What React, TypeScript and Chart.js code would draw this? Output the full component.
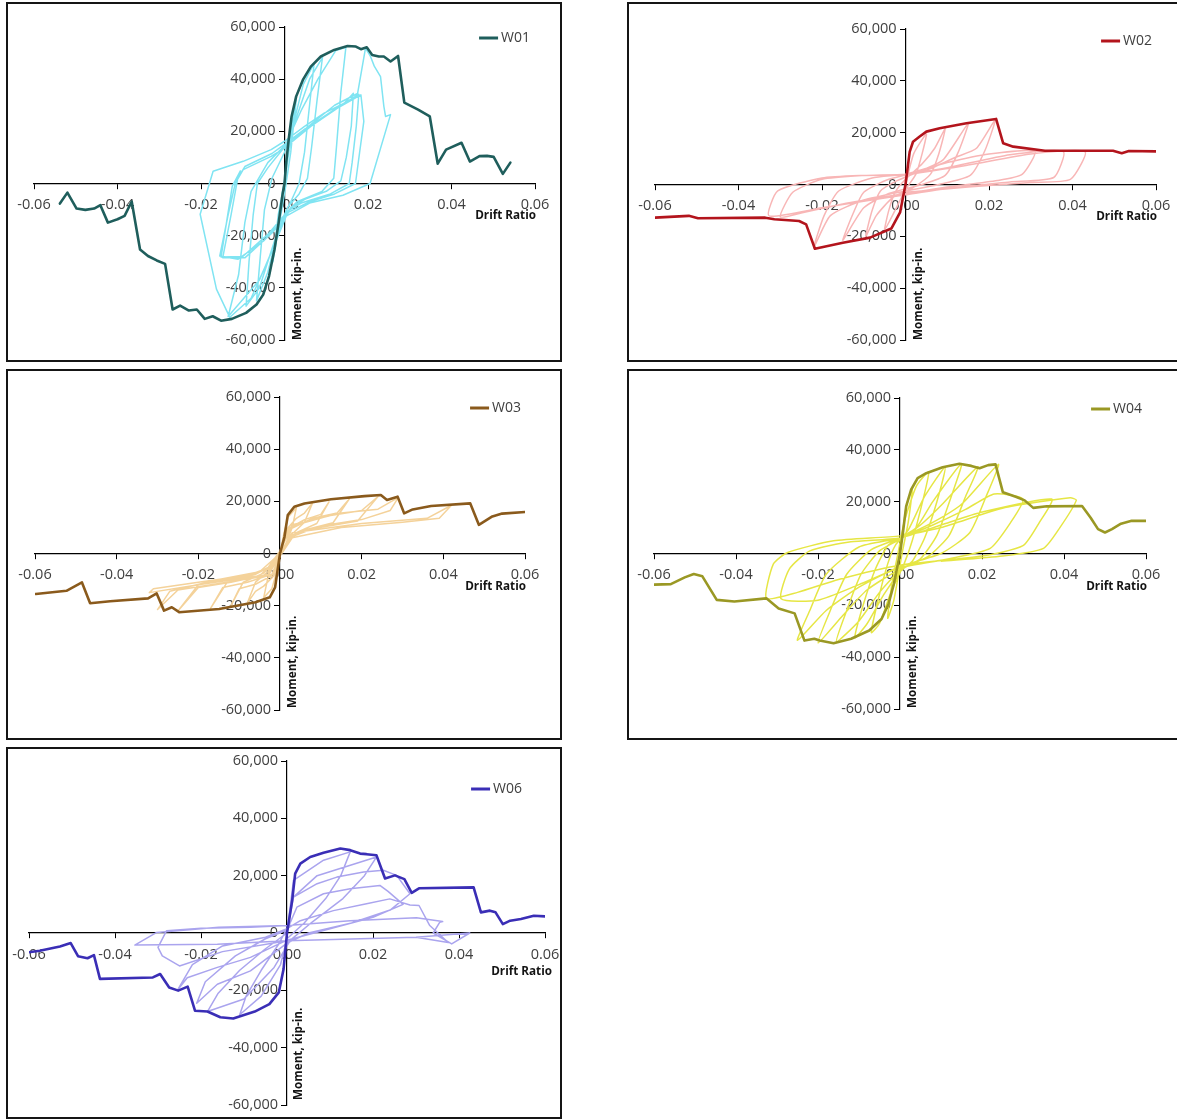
import React, { useEffect, useRef } from "react";
import { Chart, registerables } from "chart.js";

Chart.register(...registerables);

type Pt = [number, number];

// ---------- axis ticks ----------
const DRIFT_TICKS = [-0.06, -0.04, -0.02, 0, 0.02, 0.04, 0.06];
const MOMENT_TICKS = [-60000, -40000, -20000, 0, 20000, 40000, 60000];
const X_TITLE = "Drift Ratio";
const Y_TITLE = "Moment, kip-in.";

// ---------- W01 ----------
const W01_BACKBONE: Pt[] = [
  [-0.0538, -7700], [-0.052, -3500], [-0.0498, -9600], [-0.0477, -10100], [-0.0456, -9600],
  [-0.0441, -8300], [-0.0423, -15000], [-0.04, -13700], [-0.0383, -12400], [-0.0366, -6900],
  [-0.0346, -25300], [-0.0327, -27800], [-0.0306, -29500], [-0.0286, -30800], [-0.0268, -48300],
  [-0.025, -46800], [-0.0229, -48700], [-0.021, -48300], [-0.0191, -51900], [-0.0172, -50900],
  [-0.0152, -52600], [-0.0126, -51900], [-0.0092, -49600], [-0.0067, -46400], [-0.0051, -42600],
  [-0.0037, -35500], [-0.0024, -25300], [-0.0014, -15000], [-0.0004, -3500], [0, 0],
  [0.0004, 7900], [0.001, 16800], [0.0017, 25700], [0.0028, 33400], [0.0044, 39700],
  [0.0063, 44800], [0.0087, 48700], [0.0119, 51200], [0.0151, 52700], [0.0171, 52500],
  [0.0183, 51500], [0.0197, 52200], [0.021, 49300], [0.0226, 48700], [0.0238, 48700],
  [0.0254, 46800], [0.0272, 48900], [0.0287, 31000], [0.032, 28300], [0.0348, 25700],
  [0.0367, 7600], [0.0387, 13000], [0.0424, 15600], [0.0444, 8400], [0.0467, 10500],
  [0.0485, 10600], [0.0501, 10200], [0.0523, 3700], [0.0541, 8000],
];
const W01_LOOPS: Pt[] = [
  [0, 0], [0.0015, 20000], [0.0028, 32000], [0.0015, 12000], [0.0002, -2000], [-0.0015, -18000],
  [-0.0028, -30000], [-0.0015, -12000], [0, 1000],
  [0.002, 22000], [0.0045, 38000], [0.0071, 46100], [0.006, 30000], [0.0048, 12000], [0.0035, 0],
  [0.0015, -7000], [-0.001, -15000], [-0.004, -34000], [-0.0067, -45000], [-0.0058, -28000],
  [-0.0048, -10000], [-0.003, 2000], [0, 12000],
  [0.003, 26000], [0.006, 40000], [0.0091, 48400], [0.0078, 32000], [0.0065, 14000], [0.0055, 2000],
  [0.0035, -4000], [0.0008, -9000], [-0.002, -20000], [-0.006, -40000], [-0.0092, -47000],
  [-0.0085, -30000], [-0.0075, -12000], [-0.0065, 0], [-0.004, 6000], [0, 14000],
  [0.004, 28000], [0.008, 40000], [0.0123, 51000], [0.0147, 52200], [0.0135, 35000], [0.0125, 15000],
  [0.0118, 2000], [0.009, -3000], [0.003, -7000], [0.0005, -11000], [-0.003, -26000], [-0.008, -44000],
  [-0.0131, -51300],
  [-0.0163, -40500], [-0.0202, -11800], [-0.0171, 4700], [-0.0099, 8500], [-0.0032, 13000], [0, 16200],
  [0.0048, 21900], [0.0095, 27000], [0.0143, 30800], [0.0165, 34600],
  [0.016, 22000], [0.0148, 10000], [0.0135, 1000], [0.01, -3000], [0.005, -6000], [0.0016, -9000],
  [0, -13000], [-0.005, -22000], [-0.0111, -29000], [-0.0155, -27800],
  [-0.0135, -12000], [-0.0118, 0], [-0.0099, 5300], [-0.0032, 10400], [0, 13600], [0.0063, 21900],
  [0.0127, 28900], [0.0183, 34000], [0.019, 23800],
  [0.018, 12000], [0.017, 0], [0.012, -4000], [0.006, -7000], [0.001, -11000], [-0.003, -19000],
  [-0.0095, -28500], [-0.0148, -28500],
  [-0.0128, -12000], [-0.0112, 2000], [-0.0095, 6500], [-0.003, 11500], [0, 15000], [0.005, 21000],
  [0.012, 30000], [0.0175, 34500], [0.0194, 51900], [0.0206, 48700], [0.0215, 45000], [0.023, 41000],
  [0.0238, 29600], [0.0242, 25700], [0.0254, 26400], [0.0205, 0], [0.014, -4500], [0.006, -7500],
  [0.0004, -12500], [-0.002, -22000], [-0.006, -37000], [-0.0135, -51000], [-0.011, -35000],
  [-0.0095, -15000], [-0.008, -3000],
  [-0.004, 8000], [0, 14500], [0.006, 22000], [0.013, 29500], [0.0178, 34200], [0.0172, 22000],
  [0.0162, 8000], [0.0155, 0], [0.011, -4000], [0.004, -7500], [0.0008, -10500], [-0.004, -19500],
  [-0.01, -28000], [-0.0152, -28200], [-0.0138, -14000], [-0.0125, -1000], [-0.0105, 5000],
];

// ---------- W02 ----------
const W02_BACKBONE: Pt[] = [
  [-0.06, -12800], [-0.0519, -12100], [-0.0497, -13000], [-0.0336, -12800], [-0.0314, -13400],
  [-0.0255, -14100], [-0.0238, -15400], [-0.0217, -24800], [-0.015, -22500], [-0.0085, -20500],
  [-0.0034, -17000], [-0.0013, -10800], [0, 0], [0.001, 12600], [0.0018, 16500], [0.0034, 18500],
  [0.005, 20400], [0.0082, 21700], [0.0146, 23600], [0.0217, 25300], [0.0234, 15900], [0.0258, 14600],
  [0.0334, 13000], [0.0402, 13000], [0.0497, 13000], [0.0518, 12100], [0.0535, 12900], [0.06, 12800],
];
const W02_LOOPS: Pt[] = [
  [0, 0], [0.002, 12000], [0.005, 19500], [0.004, 12000], [0.0025, 4000], [0, -2000], [-0.0025, -10000],
  [-0.005, -17500], [-0.004, -10000], [-0.0025, -3000], [0, 2000],
  [0.004, 8000], [0.007, 14000], [0.0095, 21500], [0.008, 12000], [0.006, 4000], [0.002, -1000],
  [-0.003, -5000], [-0.007, -12000], [-0.0095, -20000], [-0.008, -10000], [-0.006, -2500], [-0.002, 1500],
  [0.004, 5500], [0.009, 9500], [0.015, 23500], [0.0125, 12000], [0.0095, 3500], [0.004, 0],
  [-0.004, -3500], [-0.01, -9000], [-0.015, -21500], [-0.0125, -11000], [-0.01, -3000], [-0.004, 2000],
  [0.005, 5500], [0.012, 10500], [0.017, 14000], [0.0215, 25000], [0.019, 13000], [0.0155, 3500],
  [0.008, 0], [0, -2500], [-0.01, -6000], [-0.018, -12000], [-0.022, -24500], [-0.0195, -12000],
  [-0.016, -2500], [-0.008, 2500], [0, 4000],
  [0.01, 8500], [0.02, 11800], [0.031, 12800], [0.028, 4000], [0.022, 1500], [0.01, -1000], [0, -3500],
  [-0.015, -7500], [-0.025, -11000], [-0.03, -12500], [-0.027, -3000], [-0.02, 2000], [-0.01, 3500], [0, 4000],
  [0.01, 6500], [0.025, 11500], [0.0378, 12700], [0.0355, 2700], [0.025, 1000], [0.01, -1500], [0, -4000],
  [-0.02, -9000], [-0.0327, -12100], [-0.0306, -2500], [-0.02, 2500], [-0.01, 3500], [0, 3800],
  [0.015, 7500], [0.03, 11800], [0.043, 12700], [0.0395, 2000], [0.03, 800], [0.015, -1000], [0, -3000],
];

// ---------- W03 ----------
const W03_BACKBONE: Pt[] = [
  [-0.0598, -15500], [-0.0523, -14300], [-0.0485, -11100], [-0.0465, -19100], [-0.0416, -18300],
  [-0.0323, -17200], [-0.0302, -15300], [-0.0284, -21900], [-0.0265, -20600], [-0.0247, -22500],
  [-0.0149, -21300], [-0.006, -18700], [-0.0025, -16800], [-0.0012, -13000], [0, 0], [0.0011, 6400],
  [0.0019, 14700], [0.0035, 17900], [0.006, 19200], [0.0125, 20800], [0.0207, 22000], [0.0247, 22400],
  [0.0262, 20500], [0.0288, 21800], [0.0304, 15400], [0.0325, 16900], [0.037, 18200], [0.0466, 19200],
  [0.0487, 11000], [0.052, 14200], [0.0544, 15300], [0.06, 15900],
];
const W03_LOOPS: Pt[] = [
  [0, 0], [0.001, 8000], [0.002, 14000], [0.004, 17500], [0.003, 10000], [0.0015, 4000], [0, -1000],
  [-0.001, -8000], [-0.002, -13500], [-0.004, -17000], [-0.003, -9500], [-0.0015, -4000], [0, 1000],
  [0.0015, 9000], [0.004, 13500], [0.006, 15500], [0.008, 19500], [0.006, 12000], [0.003, 7500],
  [0.0015, 4000], [0, -1000], [-0.0015, -8500], [-0.004, -12500], [-0.006, -14500], [-0.008, -19000],
  [-0.006, -11000], [-0.003, -7000], [-0.0015, -3500], [0, 1000],
  [0.002, 9500], [0.006, 13000], [0.01, 15000], [0.012, 19800], [0.009, 11500], [0.004, 8000],
  [0.002, 5000], [0, -1000], [-0.002, -8500], [-0.006, -11800], [-0.01, -13500], [-0.012, -20000],
  [-0.009, -11000], [-0.004, -7500], [-0.002, -4500], [0, 1000],
  [0.002, 9000], [0.008, 13500], [0.014, 15500], [0.017, 21000], [0.013, 11800], [0.006, 9000],
  [0.002, 5500], [0, -1000], [-0.002, -8000], [-0.008, -11000], [-0.014, -13000], [-0.017, -21000],
  [-0.013, -11200], [-0.006, -8000], [-0.002, -4500], [0, 1000],
  [0.003, 10500], [0.012, 14500], [0.02, 16500], [0.024, 21800], [0.019, 12500], [0.008, 9500],
  [0.003, 6500], [0, -1000], [-0.003, -8000], [-0.012, -11000], [-0.02, -13000], [-0.025, -22000],
  [-0.02, -12000], [-0.008, -8500], [-0.003, -5500], [0, 1000],
  [0.003, 11000], [0.015, 15500], [0.024, 17000], [0.029, 21500], [0.027, 16500], [0.02, 13000],
  [0.01, 10500], [0.003, 7000], [0, -1000], [-0.003, -8500], [-0.015, -11500], [-0.025, -14000],
  [-0.03, -21500], [-0.027, -14500], [-0.015, -10000], [-0.005, -7000], [0, 0],
  [0.003, 8000], [0.02, 11500], [0.036, 13500], [0.042, 18500], [0.039, 13500], [0.03, 12000],
  [0.015, 10000], [0.003, 6000], [0, -1000], [-0.005, -8500], [-0.02, -12000], [-0.032, -15000],
  [-0.031, -13500], [-0.02, -11000], [-0.006, -8000], [0, -3000],
];

// ---------- W04 ----------
const W04_BACKBONE: Pt[] = [
  [-0.06, -12000], [-0.0559, -11800], [-0.0525, -9200], [-0.0503, -7900], [-0.0482, -8800],
  [-0.0447, -17900], [-0.0404, -18500], [-0.0326, -17300], [-0.0296, -21200], [-0.0257, -23100],
  [-0.0233, -33600], [-0.0209, -32900], [-0.0196, -33600], [-0.0162, -34600], [-0.0119, -32900],
  [-0.0075, -29700], [-0.0045, -25300], [-0.0028, -19500], [-0.0015, -11800], [0, 0], [0.0007, 7900],
  [0.0015, 18200], [0.0027, 24600], [0.0043, 29100], [0.0064, 31000], [0.0104, 33300], [0.0145, 34600],
  [0.0174, 33800], [0.0194, 32900], [0.0215, 34100], [0.0233, 34400], [0.0251, 23600], [0.0284, 21800],
  [0.0304, 20500], [0.0325, 17600], [0.0358, 18200], [0.0444, 18300], [0.0465, 13800], [0.0483, 9400],
  [0.05, 8100], [0.0517, 9400], [0.0539, 11500], [0.0565, 12600], [0.06, 12600],
];
const W04_LOOPS: Pt[] = [
  [0, 0], [0.0015, 18000], [0.003, 25000], [0.002, 12000], [0.0005, 0], [-0.0015, -18000],
  [-0.003, -25000], [-0.002, -12000], [-0.0005, 0],
  [0.001, 12000], [0.004, 26000], [0.007, 31500], [0.0055, 20000], [0.003, 5000], [0.001, -4000],
  [-0.002, -14000], [-0.005, -27000], [-0.007, -30500], [-0.0055, -19000], [-0.003, -4000], [-0.001, 3500],
  [0.002, 9000], [0.006, 22000], [0.011, 33300], [0.009, 20000], [0.006, 6000], [0.003, -3000], [0, -7000],
  [-0.004, -16000], [-0.008, -27000], [-0.011, -32500], [-0.009, -20000], [-0.006, -6000], [-0.003, 3000], [0, 6000],
  [0.004, 10000], [0.008, 20000], [0.015, 34600], [0.0125, 22000], [0.009, 7000], [0.005, -2000], [0, -6500],
  [-0.005, -15000], [-0.01, -26000], [-0.0155, -34000], [-0.013, -22000], [-0.0095, -8000], [-0.005, 1000], [0, 5500],
  [0.005, 11000], [0.01, 18500], [0.019, 33500], [0.016, 22000], [0.012, 7000], [0.007, -1000], [0, -6000],
  [-0.008, -14000], [-0.014, -24000], [-0.02, -34500], [-0.017, -22000], [-0.013, -8000], [-0.007, 1500], [0, 6000],
  [0.008, 12000], [0.015, 19000], [0.024, 34400], [0.021, 22000], [0.017, 8000], [0.01, 0], [0, -5000],
  [-0.01, -13000], [-0.018, -22000], [-0.025, -33500], [-0.022, -22000], [-0.018, -8000], [-0.01, 2500], [0, 6000],
  [0.008, 11000], [0.016, 17000], [0.023, 23000], [0.03, 21000], [0.027, 12000], [0.022, 2000], [0.012, -2000],
  [0, -5500], [-0.01, -12000], [-0.02, -18000], [-0.029, -17500], [-0.027, -6000], [-0.022, 1000],
  [-0.012, 4500], [0, 6000],
  [0.01, 11000], [0.02, 16000], [0.037, 21000], [0.034, 12000], [0.03, 3000], [0.02, -1000], [0, -4500],
  [-0.015, -10000], [-0.025, -15000], [-0.0326, -17300], [-0.0309, -4100], [-0.0274, 400], [-0.0162, 4900], [0, 6800],
  [0.01, 10000], [0.025, 17500], [0.0415, 21500], [0.043, 20500], [0.039, 10000], [0.035, 2000],
  [0.025, -1000], [0.01, -3000],
];

// ---------- W06 ----------
const W06_BACKBONE: Pt[] = [
  [-0.06, -6700], [-0.0575, -6200], [-0.0528, -4700], [-0.0503, -3500], [-0.0486, -8100], [-0.0464, -8800],
  [-0.0449, -7700], [-0.0435, -16000], [-0.0312, -15500], [-0.0295, -14300], [-0.0274, -19000],
  [-0.0253, -20100], [-0.0231, -18700], [-0.0214, -27100], [-0.0185, -27400], [-0.0155, -29400],
  [-0.0125, -29800], [-0.0075, -27400], [-0.0041, -24800], [-0.0019, -20700], [-0.0008, -12600], [0, 0],
  [0.0012, 11300], [0.0019, 20700], [0.0031, 24200], [0.0054, 26500], [0.0085, 28000], [0.0124, 29500],
  [0.0147, 28900], [0.017, 27700], [0.0185, 27500], [0.0208, 27100], [0.0228, 19000], [0.0251, 20100],
  [0.0273, 18800], [0.029, 14000], [0.0307, 15600], [0.0434, 15900], [0.0451, 7200], [0.0472, 7800],
  [0.0485, 7200], [0.0502, 3100], [0.0519, 4300], [0.0544, 4900], [0.0574, 6000], [0.06, 5800],
];
const W06_LOOPS: Pt[] = [
  [0, 0], [0.0015, 18400], [0.0085, 25400], [0.0147, 28300], [0.0125, 20000], [0.009, 12000], [0.004, 3500],
  [0, -2000], [-0.0015, -11000], [-0.006, -22000], [-0.011, -28500], [-0.0095, -22000], [-0.006, -13000],
  [-0.002, -4000], [0, 1500],
  [0.0015, 12500], [0.007, 20000], [0.0208, 26500], [0.018, 20000], [0.013, 12000], [0.006, 4000],
  [0.0008, -2500], [-0.003, -12000], [-0.01, -23000], [-0.0185, -27400], [-0.016, -21000], [-0.011, -13000],
  [-0.005, -5500], [0, 0],
  [0.0015, 12500], [0.007, 17200], [0.0116, 19500], [0.0178, 21300], [0.0224, 21900], [0.0255, 20100],
  [0.0286, 13700], [0.024, 8000], [0.015, 3500], [0.005, 0], [0, -3500], [-0.0085, -13200], [-0.0162, -17900],
  [-0.021, -24500], [-0.019, -17000], [-0.012, -8000], [-0.005, -2000], [0, 1000],
  [0.0023, 9000], [0.0085, 13700], [0.0147, 15400], [0.0216, 16600], [0.0235, 14500], [0.027, 10000],
  [0.02, 5500], [0.01, 1500], [0, -2500], [-0.0085, -8500], [-0.0162, -12000], [-0.0232, -15600],
  [-0.0255, -20000], [-0.022, -11000], [-0.015, -4500], [-0.005, -1500], [0, 1500],
  [0.0031, 4300], [0.0108, 7800], [0.0185, 10200], [0.0239, 11900], [0.0286, 9800], [0.0307, 9600],
  [0.0332, 2600], [0.0375, -3300], [0.03, -1500], [0.015, -2100], [0, -2700], [-0.015, -6500],
  [-0.025, -11500], [-0.029, -8000], [-0.03, -5000], [-0.028, 800], [-0.02, 1700], [-0.0085, 2000], [0, 2600],
  [0.0147, 4300], [0.0301, 5300], [0.0362, 4000], [0.0355, 3700], [0.034, 0], [0.0383, -3800], [0.0425, 0],
  [0.03, -1500], [0.015, -2100], [0, -2700], [-0.0162, -3900], [-0.0354, -4200], [-0.0303, 200],
  [-0.0159, 2000], [0, 2600],
];

// ---------- panel layout / styling ----------
type PanelCfg = {
  name: string;
  backbone: Pt[];
  loops: Pt[];
  dark: string;
  light: string;
  tension: number;
  box: { x: number; y: number; w: number; h: number };
  pad: { left: number; right: number; top: number; bottom: number };
  legend: { dx: number; dy: number };
  xTitle: { dx: number; dy: number };
  yTitle: { dx: number; dy: number };
};

const PANELS: PanelCfg[] = [
  {
    name: "W01", backbone: W01_BACKBONE, loops: W01_LOOPS, dark: "#1f5e5c", light: "#80e4f2", tension: 0,
    box: { x: 6, y: 2, w: 556, h: 360 }, pad: { left: 28, right: 27, top: 25, bottom: 22 },
    legend: { dx: 5, dy: 11 }, xTitle: { dx: 1, dy: 32 }, yTitle: { dx: 13, dy: 0 },
  },
  {
    name: "W02", backbone: W02_BACKBONE, loops: W02_LOOPS, dark: "#b3141c", light: "#f8b6b6", tension: 0.2,
    box: { x: 627, y: 2, w: 560, h: 360 }, pad: { left: 28, right: 31, top: 27, bottom: 22 },
    legend: { dx: 4, dy: 12 }, xTitle: { dx: 1, dy: 32 }, yTitle: { dx: 13, dy: 0 },
  },
  {
    name: "W03", backbone: W03_BACKBONE, loops: W03_LOOPS, dark: "#8a5a1c", light: "#f4d29a", tension: 0,
    box: { x: 6, y: 369, w: 556, h: 371 }, pad: { left: 29, right: 37, top: 28, bottom: 30 },
    legend: { dx: 4, dy: 11 }, xTitle: { dx: 1, dy: 33 }, yTitle: { dx: 13, dy: -2 },
  },
  {
    name: "W04", backbone: W04_BACKBONE, loops: W04_LOOPS, dark: "#9a9824", light: "#e6e644", tension: 0.2,
    box: { x: 627, y: 369, w: 560, h: 371 }, pad: { left: 27, right: 41, top: 29, bottom: 31 },
    legend: { dx: 4, dy: 11 }, xTitle: { dx: 1, dy: 33 }, yTitle: { dx: 13, dy: -1 },
  },
  {
    name: "W06", backbone: W06_BACKBONE, loops: W06_LOOPS, dark: "#3a2eb6", light: "#aaa4ee", tension: 0,
    box: { x: 6, y: 747, w: 556, h: 372 }, pad: { left: 23, right: 17, top: 14, bottom: 14 },
    legend: { dx: 23, dy: 28 }, xTitle: { dx: 7, dy: 39 }, yTitle: { dx: 12, dy: -5 },
  },
];

// extra canvas width on each side so end tick labels never squeeze the plot area
const EXT = 20;

const FONT = "'Open Sans', 'DejaVu Sans', sans-serif";
const TICK_COLOR = "#404040";
const TICK_SIZE = 14.5;

function fmtThousands(n: number): string {
  const s = Math.abs(Math.round(n)).toString().replace(/\B(?=(\d{3})+(?!\d))/g, ",");
  return (n < 0 ? "-" : "") + s;
}

const overlayPlugin = {
  id: "overlay",
  // y tick labels: drawn under the curves, left of the crossing y axis's tick marks
  beforeDatasetsDraw(chart: any) {
    const { ctx, scales } = chart;
    const ys = scales.y;
    const x0 = scales.x.getPixelForValue(0);
    ctx.save();
    ctx.font = `${TICK_SIZE}px ${FONT}`;
    ctx.fillStyle = TICK_COLOR;
    ctx.textAlign = "right";
    ctx.textBaseline = "middle";
    ys.ticks.forEach((t: any) => {
      ctx.fillText(fmtThousands(t.value), x0 - 9, ys.getPixelForValue(t.value));
    });
    ctx.restore();
  },
  afterDraw(chart: any, _args: any, opts: any) {
    const { ctx, chartArea, scales } = chart;
    const x0 = scales.x.getPixelForValue(0);
    const y0 = scales.y.getPixelForValue(0);
    ctx.save();
    // legend (top-right inside plot)
    ctx.font = `14px ${FONT}`;
    ctx.fillStyle = TICK_COLOR;
    ctx.textAlign = "right";
    ctx.textBaseline = "middle";
    const ly = chartArea.top + opts.legend.dy;
    const tr = chartArea.right - opts.legend.dx;
    ctx.fillText(opts.name, tr, ly);
    const tw = ctx.measureText(opts.name).width;
    ctx.strokeStyle = opts.dark;
    ctx.lineWidth = 3;
    ctx.beginPath();
    ctx.moveTo(tr - tw - 3, ly);
    ctx.lineTo(tr - tw - 22, ly);
    ctx.stroke();
    // x title
    ctx.font = `bold 11.7px ${FONT}`;
    ctx.fillStyle = "#141414";
    ctx.textAlign = "right";
    ctx.fillText(X_TITLE, chartArea.right + opts.xTitle.dx, y0 + opts.xTitle.dy);
    // y title (rotated, reading upward, starting at bottom)
    ctx.translate(x0 + opts.yTitle.dx, chartArea.bottom + opts.yTitle.dy);
    ctx.rotate(-Math.PI / 2);
    ctx.textAlign = "left";
    ctx.fillText(Y_TITLE, 0, 0);
    ctx.restore();
  },
};

function Panel({ cfg }: { cfg: PanelCfg }) {
  const ref = useRef<HTMLCanvasElement>(null);
  useEffect(() => {
    const canvas = ref.current!;
    const chart = new Chart(canvas, {
      type: "scatter",
      data: {
        datasets: [
          {
            label: cfg.name,
            data: cfg.backbone.map(([x, y]) => ({ x, y })),
            showLine: true,
            borderColor: cfg.dark,
            backgroundColor: cfg.dark,
            borderWidth: 2.6,
            pointRadius: 0,
            borderJoinStyle: "round",
            borderCapStyle: "round",
            order: 0,
          },
          {
            label: cfg.name + " cycles",
            data: cfg.loops.map(([x, y]) => ({ x, y })),
            showLine: true,
            borderColor: cfg.light,
            backgroundColor: cfg.light,
            borderWidth: 1.5,
            pointRadius: 0,
            tension: cfg.tension,
            borderJoinStyle: "round",
            order: 1,
          },
        ],
      },
      options: {
        animation: false,
        responsive: false,
        devicePixelRatio: 1,
        layout: {
          padding: {
            left: cfg.pad.left + EXT,
            right: cfg.pad.right + EXT,
            top: cfg.pad.top,
            bottom: cfg.pad.bottom,
          },
        },
        plugins: {
          legend: { display: false },
          tooltip: { enabled: false },
          overlay: {
            name: cfg.name,
            dark: cfg.dark,
            legend: cfg.legend,
            xTitle: cfg.xTitle,
            yTitle: cfg.yTitle,
          },
        } as any,
        scales: {
          x: {
            type: "linear",
            min: -0.06,
            max: 0.06,
            position: { y: 0 } as any,
            afterBuildTicks: (s: any) => {
              s.ticks = DRIFT_TICKS.map((value) => ({ value }));
            },
            grid: {
              display: true,
              drawOnChartArea: false,
              drawTicks: true,
              tickLength: 5,
              tickColor: "#000",
              tickWidth: 1,
            },
            border: { display: true, color: "#000", width: 1.2 },
            ticks: {
              autoSkip: false,
              maxRotation: 0,
              padding: 8,
              color: TICK_COLOR,
              font: { family: FONT, size: TICK_SIZE },
              callback: (v: any) => {
                const n = Number(v);
                return Math.abs(n) < 1e-9 ? "0.00" : n.toFixed(2);
              },
            },
          },
          y: {
            type: "linear",
            min: -60000,
            max: 60000,
            position: { x: 0 } as any,
            afterBuildTicks: (s: any) => {
              s.ticks = MOMENT_TICKS.map((value) => ({ value }));
            },
            grid: {
              display: true,
              drawOnChartArea: false,
              drawTicks: true,
              tickLength: 5,
              tickColor: "#000",
              tickWidth: 1,
            },
            border: { display: true, color: "#000", width: 1.2 },
            ticks: {
              display: false,
              autoSkip: false,
              font: { family: FONT, size: TICK_SIZE },
              callback: (v: any) => fmtThousands(Number(v)),
            },
          },
        },
      },
      plugins: [overlayPlugin as any],
    });
    return () => chart.destroy();
  }, [cfg]);

  const { x, y, w, h } = cfg.box;
  return (
    <>
      <canvas
        ref={ref}
        width={w + 2 * EXT}
        height={h}
        style={{ position: "absolute", left: x - EXT, top: y, width: w + 2 * EXT, height: h }}
      />
      <div
        style={{
          position: "absolute",
          left: x,
          top: y,
          width: w,
          height: h,
          boxSizing: "border-box",
          border: "2px solid #151515",
          pointerEvents: "none",
        }}
      />
    </>
  );
}

export default function App() {
  return (
    <div
      style={{
        position: "absolute",
        left: 0,
        top: 0,
        width: 1177,
        height: 1120,
        overflow: "hidden",
        background: "#fff",
      }}
    >
      {PANELS.map((p) => (
        <Panel key={p.name} cfg={p} />
      ))}
    </div>
  );
}
